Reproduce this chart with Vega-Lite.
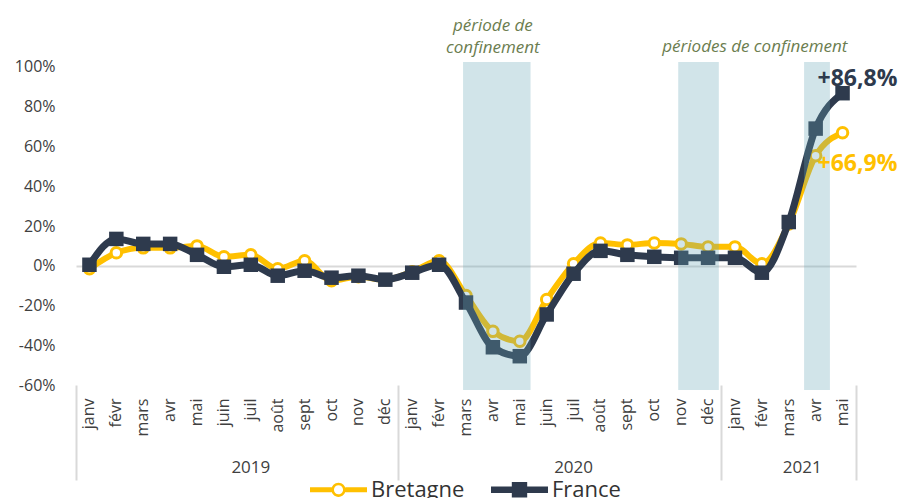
{
  "$schema": "https://vega.github.io/schema/vega-lite/v6.json",
  "width": 780,
  "height": 328,
  "autosize": {"type": "none"},
  "padding": {"left": 76, "top": 62, "right": 48, "bottom": 108},
  "background": "white",
  "config": {"view": {"stroke": null}, "font": "Open Sans"},
  "datasets": {
    "main": [
      {"month": "2019-01", "series": "Bretagne", "value": -1.5}, {"month": "2019-01", "series": "France", "value": 0.5},
      {"month": "2019-02", "series": "Bretagne", "value": 6.5}, {"month": "2019-02", "series": "France", "value": 13.5},
      {"month": "2019-03", "series": "Bretagne", "value": 9}, {"month": "2019-03", "series": "France", "value": 11},
      {"month": "2019-04", "series": "Bretagne", "value": 9}, {"month": "2019-04", "series": "France", "value": 11},
      {"month": "2019-05", "series": "Bretagne", "value": 10}, {"month": "2019-05", "series": "France", "value": 5.5},
      {"month": "2019-06", "series": "Bretagne", "value": 4.5}, {"month": "2019-06", "series": "France", "value": -0.5},
      {"month": "2019-07", "series": "Bretagne", "value": 5.5}, {"month": "2019-07", "series": "France", "value": 0.5},
      {"month": "2019-08", "series": "Bretagne", "value": -1.5}, {"month": "2019-08", "series": "France", "value": -5},
      {"month": "2019-09", "series": "Bretagne", "value": 2.5}, {"month": "2019-09", "series": "France", "value": -2.5},
      {"month": "2019-10", "series": "Bretagne", "value": -7.5}, {"month": "2019-10", "series": "France", "value": -6},
      {"month": "2019-11", "series": "Bretagne", "value": -5.5}, {"month": "2019-11", "series": "France", "value": -5},
      {"month": "2019-12", "series": "Bretagne", "value": -7}, {"month": "2019-12", "series": "France", "value": -7},
      {"month": "2020-01", "series": "Bretagne", "value": -3}, {"month": "2020-01", "series": "France", "value": -3.5},
      {"month": "2020-02", "series": "Bretagne", "value": 2.5}, {"month": "2020-02", "series": "France", "value": 0.5},
      {"month": "2020-03", "series": "Bretagne", "value": -15}, {"month": "2020-03", "series": "France", "value": -18.5},
      {"month": "2020-04", "series": "Bretagne", "value": -33}, {"month": "2020-04", "series": "France", "value": -41},
      {"month": "2020-05", "series": "Bretagne", "value": -38}, {"month": "2020-05", "series": "France", "value": -45.5},
      {"month": "2020-06", "series": "Bretagne", "value": -17}, {"month": "2020-06", "series": "France", "value": -24.5},
      {"month": "2020-07", "series": "Bretagne", "value": 1}, {"month": "2020-07", "series": "France", "value": -4},
      {"month": "2020-08", "series": "Bretagne", "value": 11.5}, {"month": "2020-08", "series": "France", "value": 7.5},
      {"month": "2020-09", "series": "Bretagne", "value": 10.5}, {"month": "2020-09", "series": "France", "value": 5.5},
      {"month": "2020-10", "series": "Bretagne", "value": 11.5}, {"month": "2020-10", "series": "France", "value": 4.5},
      {"month": "2020-11", "series": "Bretagne", "value": 11}, {"month": "2020-11", "series": "France", "value": 4},
      {"month": "2020-12", "series": "Bretagne", "value": 9.5}, {"month": "2020-12", "series": "France", "value": 4},
      {"month": "2021-01", "series": "Bretagne", "value": 9.5}, {"month": "2021-01", "series": "France", "value": 4},
      {"month": "2021-02", "series": "Bretagne", "value": 1}, {"month": "2021-02", "series": "France", "value": -3.5},
      {"month": "2021-03", "series": "Bretagne", "value": 21}, {"month": "2021-03", "series": "France", "value": 22},
      {"month": "2021-04", "series": "Bretagne", "value": 55.3}, {"month": "2021-04", "series": "France", "value": 69},
      {"month": "2021-05", "series": "Bretagne", "value": 66.9}, {"month": "2021-05", "series": "France", "value": 86.8}
    ],
    "bands": [{"start": "2020-03", "end": "2020-05"}, {"start": "2020-11", "end": "2020-12"}],
    "band3": [{"start": "2021-04", "end": "2021-04"}],
    "labelF": [{"month": "2021-05", "value": 86.8, "label": "+86,8%"}],
    "labelB": [{"month": "2021-05", "value": 66.9, "label": "+66,9%"}],
    "note1": [{"month": "2020-04", "value": 102.5, "label": ["période de", "confinement"]}],
    "note2": [{"month": "2021-02", "value": 102.5, "label": "périodes de confinement"}],
    "legend": [{"series": "Bretagne"}, {"series": "France"}]
  },
  "resolve": {"axis": {"x": "independent"}},
  "layer": [
    {
      "data": {"name": "main"},
      "transform": [{"filter": "datum.series === 'Bretagne'"}],
      "mark": {"type": "line", "color": "#FFC000", "strokeWidth": 6, "interpolate": "monotone"},
      "encoding": {
        "x": {
          "field": "month", "type": "ordinal", "bandPosition": 0.5,
          "scale": {"type": "band", "paddingInner": 0, "paddingOuter": 0},
          "axis": {
            "orient": "bottom", "bandPosition": 0.5, "title": null, "domain": false, "ticks": false, "grid": false,
            "labelAngle": 270, "labelAlign": "right", "labelBaseline": "middle", "labelPadding": 8,
            "labelFontSize": 16, "labelColor": "#404040", "labelOverlap": false,
            "labelExpr": "['janv','févr','mars','avr','mai','juin','juil','août','sept','oct','nov','déc'][toNumber(substring(datum.value,5,7))-1]"
          }
        },
        "y": {
          "field": "value", "type": "quantitative", "title": null,
          "scale": {"domain": [-62.5, 102.5], "nice": false, "zero": false},
          "axis": {
            "values": [-60, -40, -20, 0, 20, 40, 60, 80, 100], "labelExpr": "datum.value + '%'",
            "title": null, "domain": false, "ticks": false, "grid": true, "gridColor": "#d9d9d9", "gridWidth": 2,
            "gridOpacity": {"condition": {"test": "datum.value === 0", "value": 1}, "value": 0},
            "labelPadding": 21, "labelFontSize": 16, "labelColor": "#404040"
          }
        }
      }
    },
    {
      "data": {"name": "main"},
      "transform": [{"filter": "datum.series === 'Bretagne'"}],
      "mark": {"type": "point", "shape": "circle", "filled": true, "fill": "white", "stroke": "#FFC000", "strokeWidth": 3, "size": 110, "opacity": 1},
      "encoding": {
        "x": {
          "field": "month", "type": "ordinal", "bandPosition": 0.5,
          "axis": {
            "orient": "bottom", "bandPosition": 0, "offset": -5, "title": null, "domain": false, "grid": false,
            "ticks": true, "tickSize": 95, "tickWidth": 2, "tickColor": "#d9d9d9",
            "tickOpacity": {"condition": {"test": "substring(datum.value,5,7) == '01'", "value": 1}, "value": 0},
            "labelExpr": "datum.value == '2019-07' ? '2019' : datum.value == '2020-07' ? '2020' : datum.value == '2021-03' ? '2021' : ''",
            "labelOffset": {"condition": {"test": "datum.value == '2021-03'", "value": 13.45}, "value": 0},
            "labelAngle": 0, "labelAlign": "center", "labelBaseline": "middle", "labelPadding": -13,
            "labelFontSize": 17, "labelColor": "#404040", "labelOverlap": false
          }
        },
        "y": {"field": "value", "type": "quantitative", "title": null}
      }
    },
    {
      "data": {"name": "main"},
      "transform": [{"filter": "datum.series === 'France'"}],
      "mark": {"type": "line", "color": "#2E3A4D", "strokeWidth": 7, "interpolate": "monotone"},
      "encoding": {
        "x": {
          "field": "month", "type": "ordinal", "bandPosition": 0.5,
          "axis": {
            "orient": "bottom", "bandPosition": 1, "offset": -5, "title": null, "domain": false, "grid": false, "labels": false,
            "ticks": true, "tickSize": 95, "tickWidth": 2, "tickColor": "#d9d9d9",
            "tickOpacity": {"condition": {"test": "datum.value == '2021-05'", "value": 1}, "value": 0}
          }
        },
        "y": {"field": "value", "type": "quantitative", "title": null}
      }
    },
    {
      "data": {"name": "main"},
      "transform": [{"filter": "datum.series === 'France'"}],
      "mark": {"type": "square", "color": "#2E3A4D", "size": 210, "opacity": 1},
      "encoding": {
        "x": {"field": "month", "type": "ordinal", "bandPosition": 0.5, "axis": null},
        "y": {"field": "value", "type": "quantitative", "title": null}
      }
    },
    {
      "data": {"name": "bands"},
      "mark": {"type": "rect", "color": "#68a7b5", "opacity": 0.3},
      "encoding": {
        "x": {"field": "start", "type": "ordinal", "bandPosition": 0.39, "axis": null},
        "x2": {"field": "end", "bandPosition": 0.9}
      }
    },
    {
      "data": {"name": "band3"},
      "mark": {"type": "rect", "color": "#68a7b5", "opacity": 0.3},
      "encoding": {
        "x": {"field": "start", "type": "ordinal", "bandPosition": 0.07, "axis": null},
        "x2": {"field": "end", "bandPosition": 1.03}
      }
    },
    {
      "data": {"name": "labelF"},
      "mark": {"type": "text", "align": "left", "baseline": "middle", "dx": -25, "dy": -14, "fontSize": 23, "fontWeight": "bold", "color": "#2E3A4D"},
      "encoding": {
        "x": {"field": "month", "type": "ordinal", "bandPosition": 0.5, "axis": null},
        "y": {"field": "value", "type": "quantitative", "title": null},
        "text": {"field": "label"}
      }
    },
    {
      "data": {"name": "labelB"},
      "mark": {"type": "text", "align": "left", "baseline": "middle", "dx": -25, "dy": 31, "fontSize": 23, "fontWeight": "bold", "color": "#FFC000"},
      "encoding": {
        "x": {"field": "month", "type": "ordinal", "bandPosition": 0.5, "axis": null},
        "y": {"field": "value", "type": "quantitative", "title": null},
        "text": {"field": "label"}
      }
    },
    {
      "data": {"name": "note1"},
      "mark": {"type": "text", "align": "center", "baseline": "bottom", "dy": -27, "lineHeight": 22, "fontSize": 17, "fontStyle": "italic", "color": "#6b7d4f"},
      "encoding": {
        "x": {"field": "month", "type": "ordinal", "bandPosition": 0.5, "axis": null},
        "y": {"field": "value", "type": "quantitative", "title": null},
        "text": {"field": "label"}
      }
    },
    {
      "data": {"name": "note2"},
      "mark": {"type": "text", "align": "center", "baseline": "bottom", "dx": -7, "dy": -6, "fontSize": 17, "fontStyle": "italic", "color": "#6b7d4f"},
      "encoding": {
        "x": {"field": "month", "type": "ordinal", "bandPosition": 0.5, "axis": null},
        "y": {"field": "value", "type": "quantitative", "title": null},
        "text": {"field": "label"}
      }
    },
    {
      "data": {"name": "legend"},
      "mark": {"type": "point", "filled": true, "opacity": 0},
      "encoding": {
        "color": {
          "field": "series", "type": "nominal",
          "scale": {"domain": ["Bretagne", "France"], "range": ["#FFC000", "#2E3A4D"]},
          "legend": {
            "orient": "none", "legendX": 234, "legendY": 399, "direction": "horizontal", "title": null,
            "symbolSize": 3249, "symbolOpacity": 1, "symbolStrokeWidth": 0, "labelFontSize": 22, "labelColor": "#333333",
            "columnPadding": 26, "labelOffset": 4
          }
        },
        "shape": {
          "field": "series", "type": "nominal",
          "scale": {
            "domain": ["Bretagne", "France"],
            "range": [
              "M-1,-0.09H-0.24V0.09H-1Z M0.24,-0.09H1V0.09H0.24Z M0.25,0A0.25,0.25 0 1,1 -0.25,0A0.25,0.25 0 1,1 0.25,0Z M0.16,0A0.16,0.16 0 1,0 -0.16,0A0.16,0.16 0 1,0 0.16,0Z",
              "M-1,-0.11H1V0.11H-1Z M-0.27,-0.27H0.27V0.27H-0.27Z"
            ]
          },
          "legend": {
            "orient": "none", "legendX": 234, "legendY": 399, "direction": "horizontal", "title": null,
            "symbolSize": 3249, "symbolOpacity": 1, "symbolStrokeWidth": 0, "labelFontSize": 22, "labelColor": "#333333",
            "columnPadding": 26, "labelOffset": 4
          }
        }
      }
    }
  ]
}
